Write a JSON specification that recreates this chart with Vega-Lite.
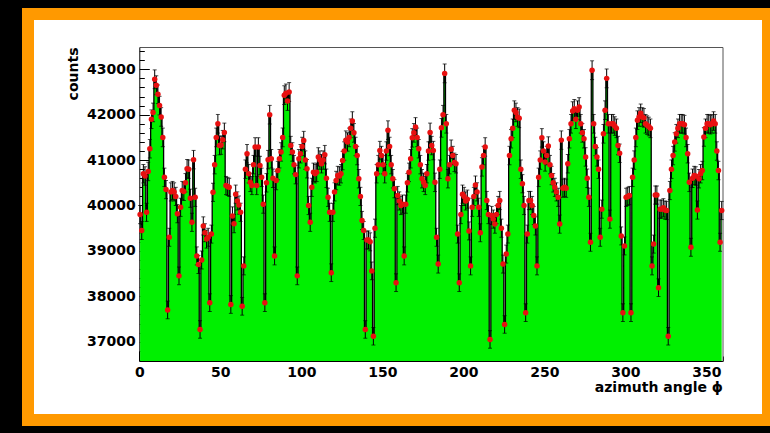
{
"$schema": "https://vega.github.io/schema/vega-lite/v6.json",
"width": 740, "height": 406,
"autosize": "none",
"padding": {"left": 28, "top": 14, "right": 2, "bottom": 13},
"background": "black",
"config": {
  "view": {"fill": "white", "stroke": "#ff9900", "strokeWidth": 12},
  "axis": {"labelFont": "DejaVu Sans", "labelFontWeight": "bold", "labelFontSize": 14, "labelColor": "black", "titleFont": "DejaVu Sans", "titleFontWeight": "bold", "titleFontSize": 14, "titleColor": "black", "domainColor": "black", "tickColor": "black", "grid": false, "zindex": 1}
},
"data": {"values": [
{"c":0.5,"n":39800,"e":200},{"c":1.5,"n":39450,"e":198},{"c":2.5,"n":40700,"e":203},{"c":3.5,"n":40650,"e":203},{"c":4.5,"n":39850,"e":200},{"c":5.5,"n":40750,"e":203},{"c":6.5,"n":41250,"e":203},{"c":7.5,"n":41900,"e":205},{"c":8.5,"n":42050,"e":205},{"c":9.5,"n":42780,"e":207},
{"c":10.5,"n":42650,"e":207},{"c":11.5,"n":42450,"e":205},{"c":12.5,"n":42200,"e":205},{"c":13.5,"n":41950,"e":205},{"c":14.5,"n":41500,"e":205},{"c":15.5,"n":40620,"e":203},{"c":16.5,"n":40350,"e":200},{"c":17.5,"n":37700,"e":195},{"c":18.5,"n":39300,"e":198},{"c":19.5,"n":40300,"e":200},
{"c":20.5,"n":40330,"e":200},{"c":21.5,"n":40300,"e":200},{"c":22.5,"n":40200,"e":200},{"c":23.5,"n":39820,"e":200},{"c":24.5,"n":38450,"e":195},{"c":25.5,"n":39960,"e":200},{"c":26.5,"n":40330,"e":200},{"c":27.5,"n":40310,"e":200},{"c":28.5,"n":40500,"e":203},{"c":29.5,"n":40810,"e":203},
{"c":30.5,"n":40800,"e":203},{"c":31.5,"n":40160,"e":200},{"c":32.5,"n":39630,"e":200},{"c":33.5,"n":41010,"e":203},{"c":34.5,"n":40180,"e":200},{"c":35.5,"n":38890,"e":198},{"c":36.5,"n":38700,"e":198},{"c":37.5,"n":37270,"e":193},{"c":38.5,"n":38800,"e":198},{"c":39.5,"n":39550,"e":200},
{"c":40.5,"n":39400,"e":198},{"c":41.5,"n":39260,"e":198},{"c":42.5,"n":39300,"e":198},{"c":43.5,"n":37860,"e":195},{"c":44.5,"n":39370,"e":198},{"c":45.5,"n":40290,"e":200},{"c":46.5,"n":40900,"e":203},{"c":47.5,"n":41500,"e":205},{"c":48.5,"n":41800,"e":205},{"c":49.5,"n":41320,"e":203},
{"c":50.5,"n":41330,"e":203},{"c":51.5,"n":41450,"e":203},{"c":52.5,"n":41610,"e":205},{"c":53.5,"n":40440,"e":200},{"c":54.5,"n":40420,"e":200},{"c":55.5,"n":40400,"e":200},{"c":56.5,"n":37820,"e":195},{"c":57.5,"n":39770,"e":200},{"c":58.5,"n":39600,"e":200},{"c":59.5,"n":40250,"e":200},
{"c":60.5,"n":40100,"e":200},{"c":61.5,"n":40010,"e":200},{"c":62.5,"n":39850,"e":200},{"c":63.5,"n":37780,"e":195},{"c":64.5,"n":38670,"e":198},{"c":65.5,"n":40800,"e":203},{"c":66.5,"n":41140,"e":203},{"c":67.5,"n":40700,"e":203},{"c":68.5,"n":40510,"e":203},{"c":69.5,"n":40440,"e":200},
{"c":70.5,"n":40900,"e":203},{"c":71.5,"n":41290,"e":203},{"c":72.5,"n":40440,"e":200},{"c":73.5,"n":41290,"e":203},{"c":74.5,"n":40880,"e":203},{"c":75.5,"n":40620,"e":203},{"c":76.5,"n":40030,"e":200},{"c":77.5,"n":37860,"e":195},{"c":78.5,"n":40500,"e":203},{"c":79.5,"n":41010,"e":203},
{"c":80.5,"n":42000,"e":205},{"c":81.5,"n":41030,"e":203},{"c":82.5,"n":40600,"e":203},{"c":83.5,"n":38890,"e":198},{"c":84.5,"n":40550,"e":203},{"c":85.5,"n":40770,"e":203},{"c":86.5,"n":41030,"e":203},{"c":87.5,"n":41180,"e":203},{"c":88.5,"n":41500,"e":205},{"c":89.5,"n":42430,"e":205},
{"c":90.5,"n":42470,"e":205},{"c":91.5,"n":42300,"e":205},{"c":92.5,"n":42500,"e":207},{"c":93.5,"n":41320,"e":203},{"c":94.5,"n":41180,"e":203},{"c":95.5,"n":40900,"e":203},{"c":96.5,"n":40680,"e":203},{"c":97.5,"n":38450,"e":195},{"c":98.5,"n":41030,"e":203},{"c":99.5,"n":41140,"e":203},
{"c":100.5,"n":41300,"e":203},{"c":101.5,"n":41430,"e":203},{"c":102.5,"n":41000,"e":203},{"c":103.5,"n":40810,"e":203},{"c":104.5,"n":40000,"e":200},{"c":105.5,"n":39630,"e":200},{"c":106.5,"n":40400,"e":200},{"c":107.5,"n":40730,"e":203},{"c":108.5,"n":40700,"e":203},{"c":109.5,"n":40730,"e":203},
{"c":110.5,"n":41070,"e":203},{"c":111.5,"n":41000,"e":203},{"c":112.5,"n":40920,"e":203},{"c":113.5,"n":41000,"e":203},{"c":114.5,"n":41120,"e":203},{"c":115.5,"n":40600,"e":203},{"c":116.5,"n":40180,"e":200},{"c":117.5,"n":39850,"e":200},{"c":118.5,"n":38520,"e":195},{"c":119.5,"n":39850,"e":200},
{"c":120.5,"n":40300,"e":200},{"c":121.5,"n":40550,"e":203},{"c":122.5,"n":40660,"e":203},{"c":123.5,"n":40650,"e":203},{"c":124.5,"n":40700,"e":203},{"c":125.5,"n":40990,"e":203},{"c":126.5,"n":41200,"e":203},{"c":127.5,"n":41440,"e":203},{"c":128.5,"n":41400,"e":203},{"c":129.5,"n":41500,"e":205},
{"c":130.5,"n":41700,"e":205},{"c":131.5,"n":41860,"e":205},{"c":132.5,"n":41600,"e":205},{"c":133.5,"n":41300,"e":203},{"c":134.5,"n":41100,"e":203},{"c":135.5,"n":40590,"e":203},{"c":136.5,"n":40200,"e":200},{"c":137.5,"n":39670,"e":200},{"c":138.5,"n":39450,"e":198},{"c":139.5,"n":37270,"e":193},
{"c":140.5,"n":39240,"e":198},{"c":141.5,"n":39240,"e":198},{"c":142.5,"n":39200,"e":198},{"c":143.5,"n":38560,"e":195},{"c":144.5,"n":37120,"e":193},{"c":145.5,"n":39500,"e":200},{"c":146.5,"n":40700,"e":203},{"c":147.5,"n":40900,"e":203},{"c":148.5,"n":41210,"e":203},{"c":149.5,"n":41100,"e":203},
{"c":150.5,"n":40900,"e":203},{"c":151.5,"n":40700,"e":203},{"c":152.5,"n":41200,"e":203},{"c":153.5,"n":41660,"e":205},{"c":154.5,"n":41300,"e":203},{"c":155.5,"n":40900,"e":203},{"c":156.5,"n":40590,"e":203},{"c":157.5,"n":40370,"e":200},{"c":158.5,"n":38300,"e":195},{"c":159.5,"n":40220,"e":200},
{"c":160.5,"n":40100,"e":200},{"c":161.5,"n":40000,"e":200},{"c":162.5,"n":40030,"e":200},{"c":163.5,"n":38890,"e":198},{"c":164.5,"n":40030,"e":200},{"c":165.5,"n":40500,"e":203},{"c":166.5,"n":40730,"e":203},{"c":167.5,"n":41030,"e":203},{"c":168.5,"n":41490,"e":203},{"c":169.5,"n":41600,"e":205},
{"c":170.5,"n":41730,"e":205},{"c":171.5,"n":41500,"e":205},{"c":172.5,"n":41250,"e":203},{"c":173.5,"n":40900,"e":203},{"c":174.5,"n":40590,"e":203},{"c":175.5,"n":40510,"e":203},{"c":176.5,"n":40440,"e":200},{"c":177.5,"n":40700,"e":203},{"c":178.5,"n":41200,"e":203},{"c":179.5,"n":41610,"e":205},
{"c":180.5,"n":41320,"e":203},{"c":181.5,"n":41210,"e":203},{"c":182.5,"n":40510,"e":203},{"c":183.5,"n":39300,"e":198},{"c":184.5,"n":38710,"e":198},{"c":185.5,"n":40800,"e":203},{"c":186.5,"n":41710,"e":205},{"c":187.5,"n":42000,"e":205},{"c":188.5,"n":42910,"e":207},{"c":189.5,"n":41800,"e":205},
{"c":190.5,"n":40590,"e":203},{"c":191.5,"n":40900,"e":203},{"c":192.5,"n":41240,"e":203},{"c":193.5,"n":41100,"e":203},{"c":194.5,"n":40950,"e":203},{"c":195.5,"n":40920,"e":203},{"c":196.5,"n":39370,"e":198},{"c":197.5,"n":38300,"e":195},{"c":198.5,"n":39800,"e":200},{"c":199.5,"n":40250,"e":200},
{"c":200.5,"n":40200,"e":200},{"c":201.5,"n":40100,"e":200},{"c":202.5,"n":40140,"e":200},{"c":203.5,"n":39440,"e":198},{"c":204.5,"n":38670,"e":198},{"c":205.5,"n":39960,"e":200},{"c":206.5,"n":40200,"e":200},{"c":207.5,"n":40450,"e":200},{"c":208.5,"n":40300,"e":200},{"c":209.5,"n":39960,"e":200},
{"c":210.5,"n":39400,"e":198},{"c":211.5,"n":40850,"e":203},{"c":212.5,"n":41100,"e":203},{"c":213.5,"n":41290,"e":203},{"c":214.5,"n":40110,"e":200},{"c":215.5,"n":39800,"e":200},{"c":216.5,"n":37050,"e":193},{"c":217.5,"n":39780,"e":200},{"c":218.5,"n":39700,"e":200},{"c":219.5,"n":39590,"e":200},
{"c":220.5,"n":39800,"e":200},{"c":221.5,"n":40000,"e":200},{"c":222.5,"n":40110,"e":200},{"c":223.5,"n":39500,"e":200},{"c":224.5,"n":38710,"e":198},{"c":225.5,"n":37380,"e":193},{"c":226.5,"n":38930,"e":198},{"c":227.5,"n":39370,"e":198},{"c":228.5,"n":41100,"e":203},{"c":229.5,"n":41470,"e":203},
{"c":230.5,"n":41700,"e":205},{"c":231.5,"n":42100,"e":205},{"c":232.5,"n":42050,"e":205},{"c":233.5,"n":41950,"e":205},{"c":234.5,"n":41920,"e":205},{"c":235.5,"n":40800,"e":203},{"c":236.5,"n":40480,"e":200},{"c":237.5,"n":40000,"e":200},{"c":238.5,"n":37640,"e":195},{"c":239.5,"n":39370,"e":198},
{"c":240.5,"n":40110,"e":200},{"c":241.5,"n":40110,"e":200},{"c":242.5,"n":40000,"e":200},{"c":243.5,"n":39780,"e":200},{"c":244.5,"n":39550,"e":200},{"c":245.5,"n":38670,"e":198},{"c":246.5,"n":40620,"e":203},{"c":247.5,"n":41000,"e":203},{"c":248.5,"n":41490,"e":203},{"c":249.5,"n":41200,"e":203},
{"c":250.5,"n":40960,"e":203},{"c":251.5,"n":41100,"e":203},{"c":252.5,"n":41310,"e":203},{"c":253.5,"n":40900,"e":203},{"c":254.5,"n":40660,"e":203},{"c":255.5,"n":40500,"e":203},{"c":256.5,"n":40400,"e":200},{"c":257.5,"n":40300,"e":200},{"c":258.5,"n":40180,"e":200},{"c":259.5,"n":39590,"e":200},
{"c":260.5,"n":41440,"e":203},{"c":261.5,"n":40380,"e":200},{"c":262.5,"n":40400,"e":200},{"c":263.5,"n":40380,"e":200},{"c":264.5,"n":40920,"e":203},{"c":265.5,"n":41470,"e":203},{"c":266.5,"n":41800,"e":205},{"c":267.5,"n":42080,"e":205},{"c":268.5,"n":42130,"e":205},{"c":269.5,"n":41900,"e":205},
{"c":270.5,"n":42100,"e":205},{"c":271.5,"n":42170,"e":205},{"c":272.5,"n":41800,"e":205},{"c":273.5,"n":41600,"e":205},{"c":274.5,"n":41470,"e":203},{"c":275.5,"n":41070,"e":203},{"c":276.5,"n":40600,"e":203},{"c":277.5,"n":40180,"e":200},{"c":278.5,"n":39190,"e":198},{"c":279.5,"n":42980,"e":207},
{"c":280.5,"n":41800,"e":205},{"c":281.5,"n":41300,"e":203},{"c":282.5,"n":41070,"e":203},{"c":283.5,"n":40800,"e":203},{"c":284.5,"n":39300,"e":198},{"c":285.5,"n":39920,"e":200},{"c":286.5,"n":41580,"e":205},{"c":287.5,"n":42100,"e":205},{"c":288.5,"n":42800,"e":207},{"c":289.5,"n":41800,"e":205},
{"c":290.5,"n":39700,"e":200},{"c":291.5,"n":41800,"e":205},{"c":292.5,"n":41800,"e":205},{"c":293.5,"n":41750,"e":205},{"c":294.5,"n":41700,"e":205},{"c":295.5,"n":41320,"e":203},{"c":296.5,"n":41150,"e":203},{"c":297.5,"n":39330,"e":198},{"c":298.5,"n":37640,"e":195},{"c":299.5,"n":39110,"e":198},
{"c":300.5,"n":40180,"e":200},{"c":301.5,"n":40200,"e":200},{"c":302.5,"n":40220,"e":200},{"c":303.5,"n":37640,"e":195},{"c":304.5,"n":40620,"e":203},{"c":305.5,"n":41000,"e":203},{"c":306.5,"n":41500,"e":205},{"c":307.5,"n":41880,"e":205},{"c":308.5,"n":41950,"e":205},{"c":309.5,"n":42030,"e":205},
{"c":310.5,"n":41950,"e":205},{"c":311.5,"n":41930,"e":205},{"c":312.5,"n":41800,"e":205},{"c":313.5,"n":41770,"e":205},{"c":314.5,"n":41740,"e":205},{"c":315.5,"n":41700,"e":205},{"c":316.5,"n":38670,"e":198},{"c":317.5,"n":39150,"e":198},{"c":318.5,"n":40230,"e":200},{"c":319.5,"n":40230,"e":200},
{"c":320.5,"n":38190,"e":195},{"c":321.5,"n":39920,"e":200},{"c":322.5,"n":39920,"e":200},{"c":323.5,"n":39950,"e":200},{"c":324.5,"n":39900,"e":200},{"c":325.5,"n":39890,"e":200},{"c":326.5,"n":37120,"e":193},{"c":327.5,"n":40330,"e":200},{"c":328.5,"n":40800,"e":203},{"c":329.5,"n":41100,"e":203},
{"c":330.5,"n":41400,"e":203},{"c":331.5,"n":41580,"e":205},{"c":332.5,"n":41700,"e":205},{"c":333.5,"n":41800,"e":205},{"c":334.5,"n":41800,"e":205},{"c":335.5,"n":41800,"e":205},{"c":336.5,"n":41780,"e":205},{"c":337.5,"n":41500,"e":205},{"c":338.5,"n":41140,"e":203},{"c":339.5,"n":40510,"e":203},
{"c":340.5,"n":39080,"e":198},{"c":341.5,"n":40600,"e":203},{"c":342.5,"n":40660,"e":203},{"c":343.5,"n":40650,"e":203},{"c":344.5,"n":39900,"e":200},{"c":345.5,"n":40590,"e":203},{"c":346.5,"n":40700,"e":203},{"c":347.5,"n":40770,"e":203},{"c":348.5,"n":41510,"e":205},{"c":349.5,"n":41700,"e":205},
{"c":350.5,"n":41800,"e":205},{"c":351.5,"n":41800,"e":205},{"c":352.5,"n":41780,"e":205},{"c":353.5,"n":41800,"e":205},{"c":354.5,"n":41860,"e":205},{"c":355.5,"n":41800,"e":205},{"c":356.5,"n":41200,"e":203},{"c":357.5,"n":40770,"e":203},{"c":358.5,"n":39190,"e":198},{"c":359.5,"n":39890,"e":200}
]},
"layer": [
  {"mark": {"type": "area", "interpolate": "step", "color": "#00f000"},
   "encoding": {
     "x": {"field": "c", "type": "quantitative",
       "scale": {"domain": [0, 360], "range": [111.3, 694.5], "nice": false, "zero": false},
       "axis": {"orient": "bottom", "offset": -59, "title": "azimuth angle ϕ", "format": "d",
         "values": [0,10,20,30,40,50,60,70,80,90,100,110,120,130,140,150,160,170,180,190,200,210,220,230,240,250,260,270,280,290,300,310,320,330,340,350,360],
         "labelExpr": "datum.value % 50 === 0 ? datum.label : ''",
         "tickSize": {"condition": {"test": "datum.value % 50 === 0", "value": -10}, "value": -5},
         "labelPadding": 14, "labelOverlap": false, "labelFlush": false, "titleAnchor": "end", "titlePadding": -4}},
     "y": {"field": "n", "type": "quantitative",
       "scale": {"domain": [36575, 43491], "range": [347, 33], "nice": false, "zero": false, "clamp": true},
       "axis": {"orient": "left", "offset": -111.3, "title": "counts", "format": "d",
         "values": [36600,36800,37000,37200,37400,37600,37800,38000,38200,38400,38600,38800,39000,39200,39400,39600,39800,40000,40200,40400,40600,40800,41000,41200,41400,41600,41800,42000,42200,42400,42600,42800,43000,43200,43400],
         "labelExpr": "datum.value % 1000 === 0 ? datum.label : ''",
         "tickSize": {"condition": {"test": "datum.value % 1000 === 0", "value": -10}, "value": -5},
         "labelPadding": 14, "labelOverlap": false, "labelFlush": false, "titleAnchor": "end", "titlePadding": 6}},
     "y2": {"datum": 0}
   }},
  {"mark": {"type": "line", "interpolate": "step", "color": "black", "strokeWidth": 1.3},
   "encoding": {
     "x": {"field": "c", "type": "quantitative", "axis": null},
     "y": {"field": "n", "type": "quantitative", "axis": null}
   }},
  {"mark": {"type": "errorbar", "ticks": {"size": 4, "color": "black"}, "color": "black", "thickness": 1},
   "encoding": {
     "x": {"field": "c", "type": "quantitative", "axis": null},
     "y": {"field": "n", "type": "quantitative", "axis": null},
     "yError": {"field": "e"}
   }},
  {"mark": {"type": "circle", "color": "#e81010", "size": 30, "opacity": 1},
   "encoding": {
     "x": {"field": "c", "type": "quantitative", "axis": {"orient": "top", "offset": -33, "ticks": false, "labels": false, "title": null, "domainColor": "#555555"}},
     "y": {"field": "n", "type": "quantitative", "axis": {"orient": "right", "offset": -45.5, "ticks": false, "labels": false, "title": null, "domainColor": "#555555"}}
   }}
],
"resolve": {"axis": {"x": "independent", "y": "independent"}}
}
